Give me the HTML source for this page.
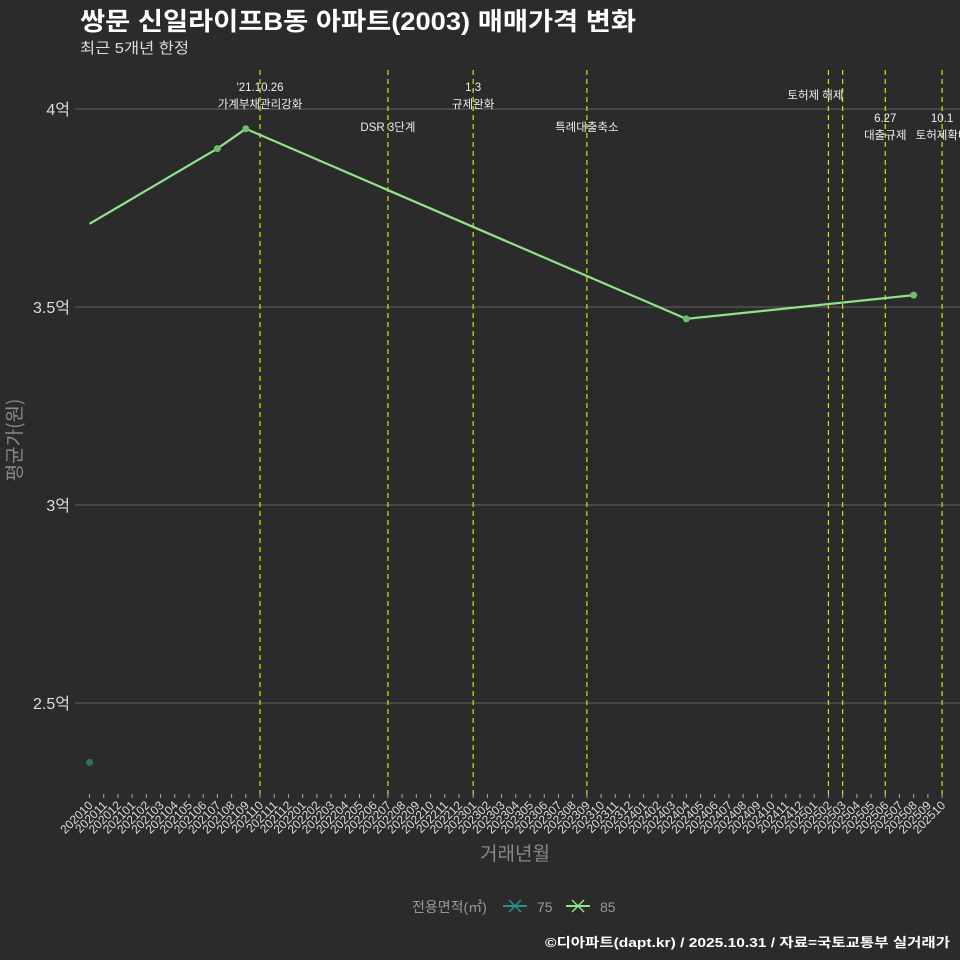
<!DOCTYPE html>
<html><head><meta charset="utf-8"><style>
body{margin:0;background:#2b2b2c;}
svg{display:block;font-family:"Liberation Sans","Noto Sans CJK KR",sans-serif;}
</style></head><body>
<svg id="chart" width="960" height="960" viewBox="0 0 960 960">
<rect width="960" height="960" fill="#2b2b2c"/>
<text x="80" y="30" fill="#ffffff" font-size="25" font-weight="bold" textLength="556" lengthAdjust="spacingAndGlyphs">쌍문 신일라이프B동 아파트(2003) 매매가격 변화</text>
<text x="80" y="53" fill="#dddddd" font-size="15" textLength="109" lengthAdjust="spacingAndGlyphs">최근 5개년 한정</text>
<g id="grid"></g><g id="vlines"></g><g id="xaxis"></g><g id="series"></g>
<g transform="translate(21 440) rotate(-90)"><text x="0" y="0" fill="#888" font-size="19" text-anchor="middle" font-family="Noto Sans CJK KR, sans-serif">평균가(원)</text></g>
<text x="515" y="860" fill="#888" font-size="19" text-anchor="middle">거래년월</text>
<g>
<text x="412" y="912" fill="#999" font-size="14">전용면적(㎡)</text>
<g><line x1="503" y1="906" x2="527" y2="906" stroke="#2a8f8a" stroke-width="2"/><path d="M509 900l12 12M521 900l-12 12" stroke="#2a8f8a" stroke-width="1.5"/><text x="537" y="912" fill="#999" font-size="14">75</text></g>
<g><line x1="566" y1="906" x2="590" y2="906" stroke="#8fe388" stroke-width="2"/><path d="M572 900l12 12M584 900l-12 12" stroke="#8fe388" stroke-width="1.5"/><text x="600" y="912" fill="#999" font-size="14">85</text></g>
</g>
<text x="545" y="947" fill="#ffffff" font-size="13" font-weight="bold" textLength="405" lengthAdjust="spacingAndGlyphs">©디아파트(dapt.kr) / 2025.10.31 / 자료=국토교통부 실거래가</text>
</svg>
<script>
const yTicks=[2.5,3,3.5,4];
const yTickLabels=["2.5억","3억","3.5억","4억"];
const series85Months=["202010","202107","202109","202404","202508"];
const series85Values=[3.71,3.90,3.95,3.47,3.53];
const series85Dots=[false,true,true,true,true];
const series75Months=["202010"];
const series75Values=[2.35];
const eventMonths=["202110","202207","202301","202309","202502","202503","202506","202510"];
const eventLabels=[["'21.10.26","가계부채관리강화"],["DSR 3단계"],["1.3","규제완화"],["특례대출축소"],["토허제 해제"],[],["6.27","대출규제"],["10.1","토허제확대"]];
const eventLabelY=[91,131,91,131,99,0,122,122];

const NS="http://www.w3.org/2000/svg";
const months=[];for(let y=2020,m=10;!(y===2025&&m===11);){months.push(y+String(m).padStart(2,"0"));m++;if(m>12){m=1;y++;}}
const x=mo=>89.5+months.indexOf(mo)*14.21;
const y=v=>109+(4-v)*396;
function mk(tag,attrs,parent){const e=document.createElementNS(NS,tag);for(const k in attrs)e.setAttribute(k,attrs[k]);parent.appendChild(e);return e;}
const grid=document.getElementById("grid");
yTicks.forEach((t,i)=>{
 const l=mk("line",{x1:75,x2:960,y1:y(t),y2:y(t),stroke:"#5a5a5a","stroke-width":1.3},grid);
 
 
 const tx=mk("text",{x:70,y:y(t)+6,fill:"#dddddd","font-size":16,"text-anchor":"end"},grid);
 tx.textContent=yTickLabels[i];
 
 
});
const vl=document.getElementById("vlines");
eventMonths.forEach((mo,i)=>{
 const l=mk("line",{x1:x(mo),x2:x(mo),y1:70,y2:798,stroke:"#d8e000","stroke-width":1.2,"stroke-dasharray":"5,4"},vl);
 
 
 eventLabels[i].forEach((s,j)=>{
  const t=mk("text",{x:x(mo)+(i===4?-13:0),y:eventLabelY[i]+j*17,fill:"#eeeeee","font-size":11.5,"text-anchor":"middle"},vl);
  t.textContent=s;
  
  
 });
});
const xa=document.getElementById("xaxis");
months.forEach(mo=>{
 mk("line",{x1:x(mo),x2:x(mo),y1:794,y2:798,stroke:"#aaa"},xa);
 const t=mk("text",{x:x(mo)+4,y:806,fill:"#dddddd","font-size":12,"text-anchor":"end",transform:`rotate(-45 ${x(mo)+4} 806)`},xa);
 t.textContent=mo;
 
 
});
const sg=document.getElementById("series");
const p=mk("polyline",{points:series85Months.map((m,i)=>x(m)+","+y(series85Values[i])).join(" "),fill:"none",stroke:"#8fe388","stroke-width":2.2},sg);


series85Months.forEach((m,i)=>{if(!series85Dots[i])return;
 const c=mk("circle",{cx:x(m),cy:y(series85Values[i]),r:3.5,fill:"#6cbf6a"},sg);
 
 
});
series75Months.forEach((m,i)=>{
 const c=mk("circle",{cx:x(m),cy:y(series75Values[i]),r:3.5,fill:"#2f6f66"},sg);
 
 
});
</script>
</body></html>
